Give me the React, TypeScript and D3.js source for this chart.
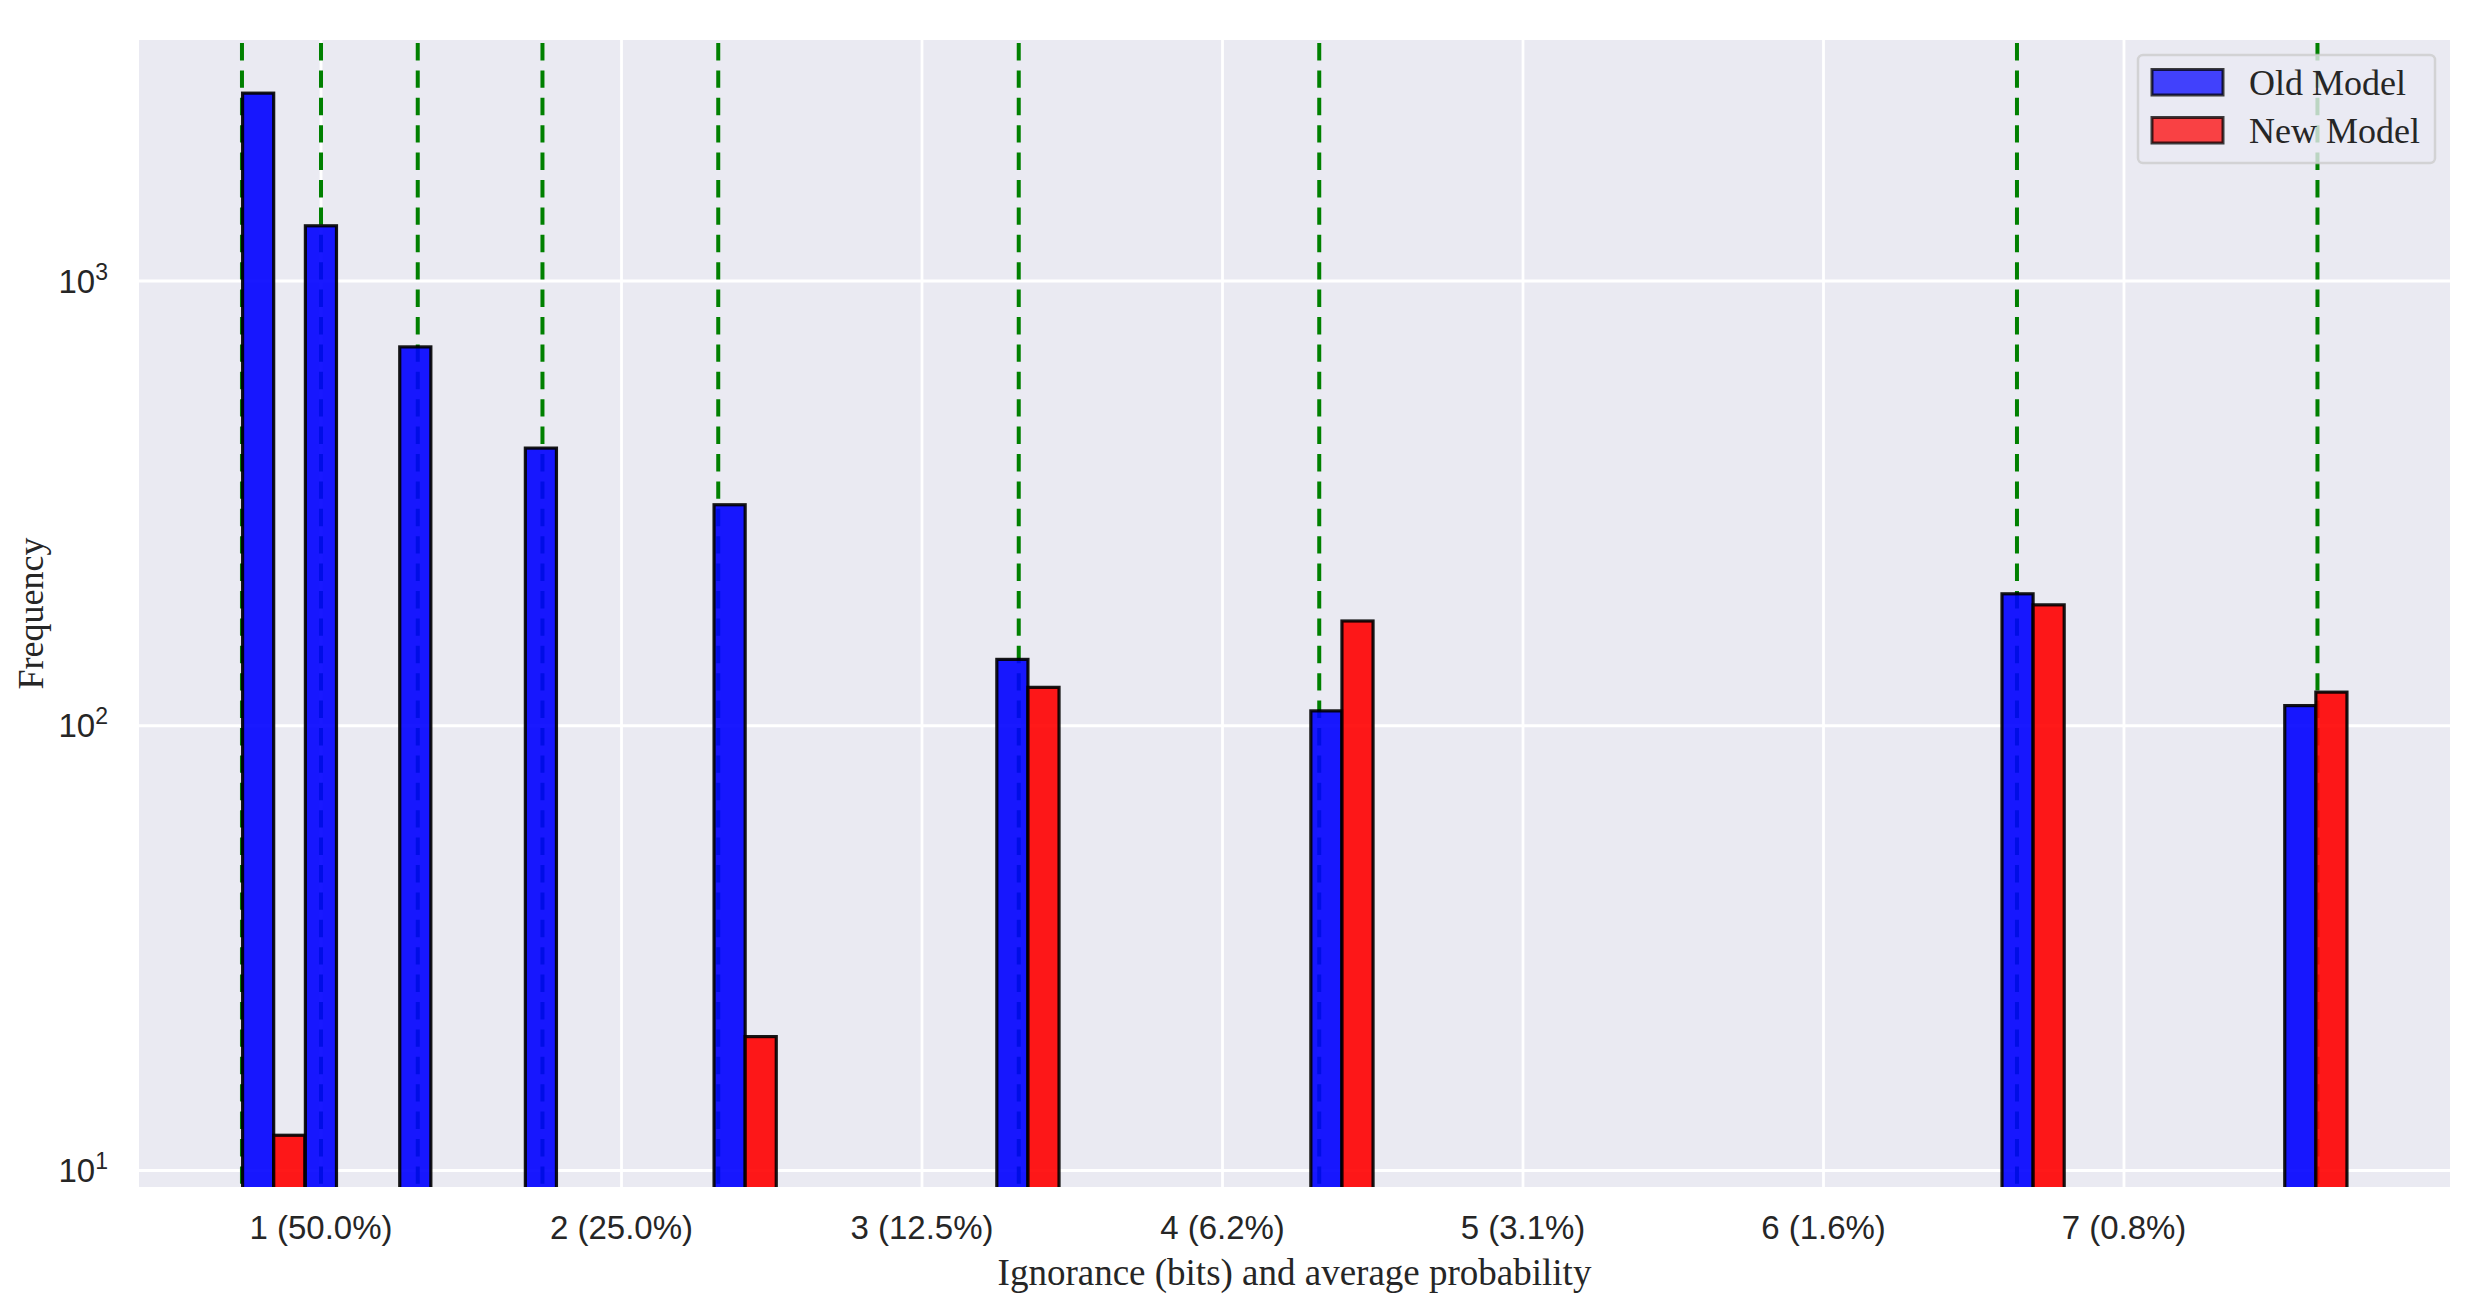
import React from "react";
import * as d3 from "d3";

// ---- data ----
const binStarts = [0.739, 0.948, 1.262, 1.68, 2.308, 3.249, 4.294, 6.594, 7.535];
const binWidth = 0.1035;
const oldModel = [2645, 1331, 711, 421, 314, 141, 108, 198, 111];
const newModel = [12, 0, 0, 0, 20, 122, 172, 187, 119];
const thresholdProbs = [0.6, 0.5, 0.4, 0.3, 0.2, 0.1, 0.05, 0.01, 0.005];
const xTicks = [1, 2, 3, 4, 5, 6, 7];
const xTickLabels = ["1 (50.0%)", "2 (25.0%)", "3 (12.5%)", "4 (6.2%)", "5 (3.1%)", "6 (1.6%)", "7 (0.8%)"];
const yTicks = [10, 100, 1000];
const yTickExps = ["1", "2", "3"];
const seriesNames = ["Old Model", "New Model"];
const seriesColors = ["#0000ff", "#ff0000"];

const W = 2475;
const H = 1310;
const L = 139, R = 2450, T = 40, B = 1187;

export default function App() {
  const x = d3.scaleLinear().domain([0.3943, 8.0849]).range([L, R]);
  const y = d3.scaleLog().domain([9.18, 3483]).range([B, T]);
  const serif = "'Liberation Serif', 'DejaVu Serif', serif";
  const sans = "'Liberation Sans', Arial, sans-serif";

  const bars: { x0: number; v: number; s: number }[] = [];
  binStarts.forEach((b, i) => {
    bars.push({ x0: b, v: oldModel[i], s: 0 });
    bars.push({ x0: b + binWidth, v: newModel[i], s: 1 });
  });

  return (
    <svg
      width={W}
      height={H}
      style={{ position: "absolute", left: 0, top: 0, background: "#fff" }}
    >
      <defs>
        <clipPath id="plot">
          <rect x={L} y={T} width={R - L} height={B - T} />
        </clipPath>
      </defs>
      <rect x={L} y={T} width={R - L} height={B - T} fill="#EAEAF2" />
      {/* grid */}
      {xTicks.map((t) => (
        <line key={"gx" + t} x1={x(t)} x2={x(t)} y1={T} y2={B} stroke="#fff" strokeWidth={2.8} />
      ))}
      {yTicks.map((t) => (
        <line key={"gy" + t} x1={L} x2={R} y1={y(t)} y2={y(t)} stroke="#fff" strokeWidth={2.8} />
      ))}
      <g clipPath="url(#plot)">
        {/* threshold lines */}
        {thresholdProbs.map((p) => {
          const xv = x(-Math.log2(p));
          return (
            <line
              key={"th" + p}
              x1={xv}
              x2={xv}
              y1={T}
              y2={B}
              stroke="#008000"
              strokeWidth={4}
              strokeDasharray="17.4 10"
              strokeDashoffset={24.4}
            />
          );
        })}
        {/* bars */}
        {bars
          .filter((d) => d.v > 0)
          .map((d, i) => {
            const x0 = x(d.x0);
            const x1 = x(d.x0 + binWidth);
            const yt = y(d.v);
            return (
              <rect
                key={"b" + i}
                x={x0}
                y={yt}
                width={x1 - x0}
                height={B + 10 - yt}
                fill={seriesColors[d.s]}
                fillOpacity={0.9}
                stroke="#000"
                strokeOpacity={0.9}
                strokeWidth={3.2}
              />
            );
          })}
      </g>
      {/* y tick labels */}
      {yTicks.map((t, i) => (
        <text
          key={"yt" + t}
          x={108}
          y={y(t) + 11.5}
          textAnchor="end"
          fontFamily={sans}
          fontSize={33}
          fill="#262626"
        >
          10
          <tspan dy={-13} fontSize={23}>
            {yTickExps[i]}
          </tspan>
        </text>
      ))}
      {/* x tick labels */}
      {xTicks.map((t, i) => (
        <text
          key={"xt" + t}
          x={x(t)}
          y={1239}
          textAnchor="middle"
          fontFamily={sans}
          fontSize={33}
          fill="#262626"
        >
          {xTickLabels[i]}
        </text>
      ))}
      {/* axis labels */}
      <text
        x={(L + R) / 2}
        y={1285}
        textAnchor="middle"
        fontFamily={serif}
        fontSize={37}
        fill="#262626"
      >
        Ignorance (bits) and average probability
      </text>
      <text
        transform={`translate(43,${(T + B) / 2}) rotate(-90)`}
        textAnchor="middle"
        fontFamily={serif}
        fontSize={36}
        fill="#262626"
      >
        Frequency
      </text>
      {/* legend */}
      <g>
        <rect
          x={2138}
          y={55}
          width={297}
          height={108}
          rx={5}
          fill="#EAEAF2"
          fillOpacity={0.8}
          stroke="#cccccc"
          strokeOpacity={0.8}
          strokeWidth={2.5}
        />
        {seriesNames.map((n, i) => (
          <g key={n}>
            <rect
              x={2152}
              y={69.5 + i * 48}
              width={71}
              height={25.5}
              fill={seriesColors[i]}
              fillOpacity={0.72}
              stroke="#000"
              strokeOpacity={0.75}
              strokeWidth={3}
            />
            <text
              x={2249}
              y={95 + i * 48}
              fontFamily={serif}
              fontSize={36}
              fill="#262626"
            >
              {n}
            </text>
          </g>
        ))}
      </g>
    </svg>
  );
}
